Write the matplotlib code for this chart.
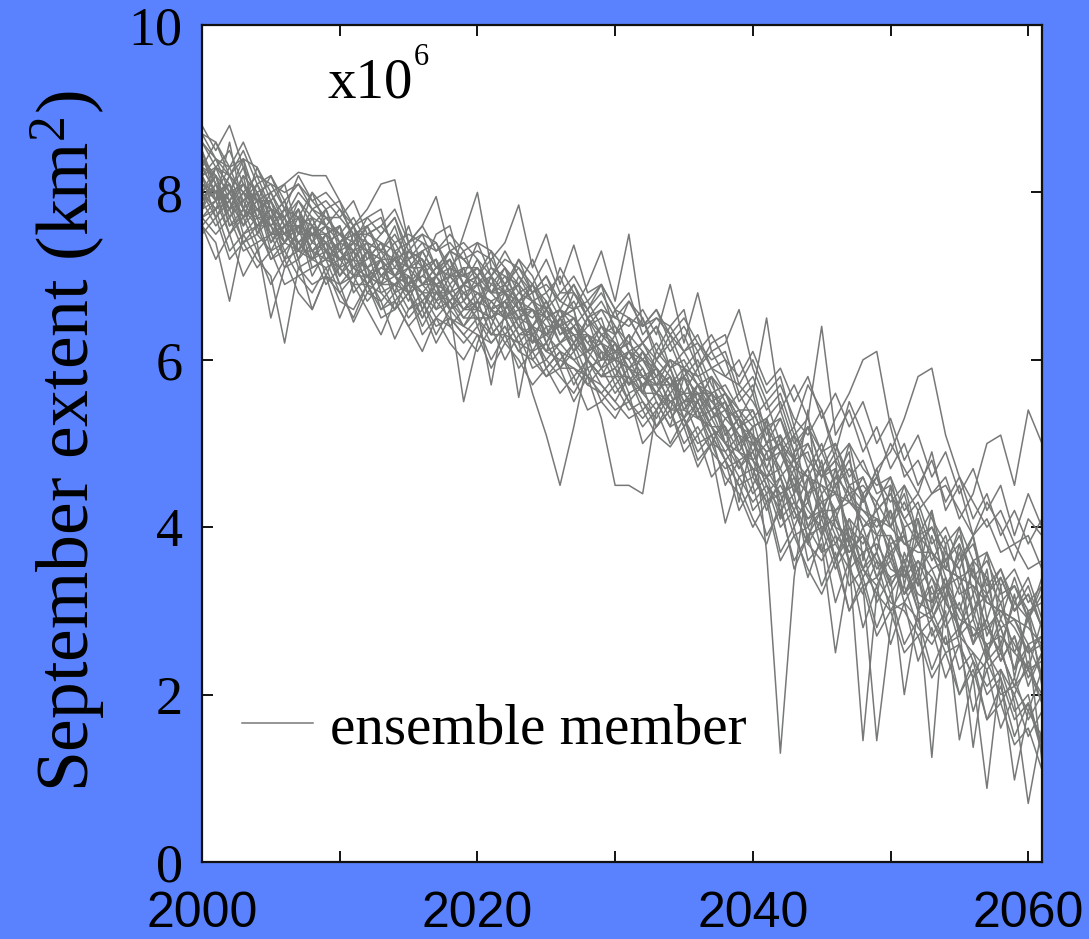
import matplotlib
matplotlib.use("Agg")
import matplotlib.pyplot as plt

# Simulated September sea-ice extent (10^6 km^2), one list per ensemble member, 2000-2061
years = list(range(2000, 2062))

member_01 = [8.4, 8.1, 7.7, 8.0, 7.6, 7.8, 7.2, 7.6, 7.5, 7.0,
             7.4, 7.6, 7.0, 6.9, 7.3, 7.1, 6.6, 7.0, 7.2, 6.7,
             6.9, 6.4, 6.8, 6.9, 6.3, 6.1, 6.5, 6.6, 5.9, 6.0,
             6.3, 5.8, 5.6, 6.1, 5.9, 5.4, 5.7, 5.3, 5.5, 4.9,
             5.2, 3.7, 1.3, 3.4, 4.6, 4.1, 4.7, 3.8, 4.4, 3.9,
             4.2, 3.4, 3.9, 3.1, 3.7, 3.5, 2.6, 3.2, 2.8, 2.3,
             3.0, 2.5]
member_02 = [7.9, 8.2, 7.6, 7.8, 8.0, 7.4, 7.6, 7.3, 7.2, 7.5,
             7.0, 7.3, 6.9, 7.2, 6.8, 6.9, 7.1, 6.6, 6.7, 6.9,
             6.4, 6.7, 6.5, 6.2, 5.6, 5.1, 4.5, 5.2, 6.0, 5.8,
             6.1, 5.7, 5.9, 5.5, 5.2, 5.8, 5.4, 5.0, 5.3, 5.1,
             4.5, 4.9, 4.3, 4.7, 4.0, 4.4, 3.6, 4.1, 3.9, 3.4,
             3.8, 3.2, 3.6, 3.4, 2.9, 3.3, 2.7, 2.9, 2.4, 2.7,
             2.1, 2.5]
member_03 = [7.8, 7.9, 8.1, 7.5, 7.7, 7.2, 7.4, 7.6, 7.0, 7.3,
             7.1, 6.9, 7.3, 6.8, 6.6, 7.0, 6.7, 6.9, 6.4, 6.6,
             6.7, 6.3, 6.5, 6.6, 6.1, 6.4, 5.9, 6.2, 5.8, 5.3,
             4.5, 4.5, 4.4, 5.4, 5.6, 5.2, 5.5, 5.1, 4.8, 5.0,
             4.7, 4.2, 4.6, 4.0, 4.4, 3.7, 4.1, 3.8, 3.5, 3.9,
             3.3, 3.6, 3.0, 3.4, 3.1, 2.8, 3.2, 2.5, 2.9, 2.6,
             2.3, 2.0]
member_04 = [8.2, 8.4, 8.0, 7.7, 8.1, 7.8, 7.5, 7.9, 7.7, 7.3,
             7.6, 7.2, 7.5, 7.4, 7.0, 7.3, 7.2, 6.8, 7.1, 7.0,
             7.1, 6.8, 6.6, 7.0, 6.7, 6.5, 6.6, 6.2, 6.4, 6.5,
             6.0, 6.3, 6.1, 5.7, 6.0, 5.9, 5.5, 5.8, 5.6, 5.2,
             5.4, 5.0, 4.7, 5.1, 4.3, 4.8, 4.0, 3.6, 1.45, 3.2,
             3.9, 3.5, 4.2, 3.7, 3.3, 3.6, 3.9, 2.9, 3.4, 3.0,
             3.3, 2.8]
member_05 = [8.0, 7.7, 7.9, 8.2, 7.5, 7.7, 7.4, 7.3, 7.6, 7.2,
             7.3, 7.1, 6.9, 7.2, 7.0, 6.7, 7.1, 6.9, 6.6, 6.8,
             6.6, 6.9, 6.8, 6.4, 6.6, 6.2, 6.5, 6.1, 6.3, 5.9,
             6.2, 6.0, 5.7, 5.9, 5.6, 5.8, 5.3, 5.6, 5.4, 5.0,
             5.1, 4.8, 5.0, 4.4, 4.7, 4.2, 4.5, 3.9, 3.3, 1.45,
             2.8, 3.7, 3.3, 3.9, 3.4, 3.0, 3.5, 2.7, 3.1, 2.5,
             2.9, 2.2]
member_06 = [8.5, 8.1, 7.8, 7.9, 8.0, 7.6, 7.8, 7.4, 7.5, 7.6,
             7.2, 7.4, 7.3, 7.0, 7.2, 6.9, 7.3, 7.0, 7.1, 6.7,
             7.0, 6.6, 6.9, 6.7, 6.4, 6.7, 6.3, 6.5, 6.1, 6.4,
             6.2, 5.9, 6.1, 5.8, 6.0, 5.6, 5.9, 5.4, 5.6, 5.3,
             4.9, 5.2, 4.6, 4.8, 4.4, 4.7, 4.1, 4.5, 4.0, 4.2,
             3.6, 4.0, 3.1, 1.25, 3.2, 3.7, 3.0, 3.4, 2.6, 3.1,
             2.9, 3.4]
member_07 = [7.7, 7.9, 7.5, 7.8, 7.4, 7.5, 7.1, 7.4, 7.2, 7.3,
             6.9, 7.1, 7.0, 6.7, 6.9, 6.8, 6.5, 6.8, 6.7, 6.4,
             6.6, 6.5, 6.2, 6.4, 6.3, 6.0, 6.2, 6.0, 5.8, 6.1,
             5.7, 5.9, 5.6, 5.4, 5.7, 5.3, 5.5, 5.2, 4.9, 5.1,
             4.8, 4.4, 4.6, 4.1, 4.3, 3.9, 4.2, 3.6, 4.0, 3.5,
             3.7, 3.2, 3.5, 2.9, 3.2, 2.6, 2.2, 0.88, 2.3, 2.0,
             2.4, 1.9]
member_08 = [7.6, 7.8, 7.3, 7.5, 7.6, 7.2, 7.3, 7.0, 7.1, 7.2,
             6.8, 7.0, 6.7, 6.9, 6.6, 6.8, 6.4, 6.7, 6.5, 6.3,
             6.5, 6.2, 6.4, 6.1, 6.3, 5.9, 6.1, 5.8, 6.0, 5.7,
             5.5, 5.8, 5.4, 5.6, 5.3, 5.5, 5.1, 5.3, 5.0, 4.7,
             4.9, 4.5, 4.3, 4.6, 4.0, 4.2, 3.8, 4.1, 3.5, 3.7,
             3.3, 3.6, 3.1, 3.0, 3.4, 2.7, 2.9, 2.4, 2.6, 1.9,
             0.7, 1.6]
member_09 = [8.6, 8.3, 8.5, 8.1, 7.9, 8.2, 7.8, 7.7, 8.0, 7.6,
             7.8, 7.5, 7.6, 7.7, 7.3, 7.4, 7.5, 7.1, 7.3, 7.2,
             7.0, 7.3, 7.1, 6.9, 7.2, 6.8, 7.0, 6.6, 6.9, 7.3,
             6.7, 7.5, 6.4, 6.6, 6.3, 6.5, 6.2, 6.0, 6.1, 5.6,
             5.8, 5.4, 5.6, 5.1, 5.3, 4.9, 5.0, 4.6, 4.8, 4.4,
             4.5, 4.1, 4.3, 3.8, 4.0, 3.6, 3.8, 3.3, 3.5, 3.1,
             3.4, 2.9]
member_10 = [8.3, 8.6, 8.2, 8.4, 7.9, 8.0, 7.7, 7.9, 7.6, 7.8,
             7.4, 7.6, 7.3, 7.5, 7.7, 7.2, 7.3, 7.4, 7.0, 7.5,
             8.0, 7.1, 6.9, 7.2, 6.8, 7.0, 6.6, 6.9, 6.5, 6.7,
             6.4, 6.2, 6.5, 6.0, 6.3, 5.9, 6.1, 5.7, 5.4, 5.6,
             5.3, 5.5, 5.0, 5.2, 4.7, 5.0, 4.5, 4.8, 4.3, 4.6,
             4.1, 4.4, 3.8, 4.0, 3.7, 3.5, 3.9, 3.2, 3.4, 3.0,
             3.2, 2.8]
member_11 = [7.9, 7.6, 7.8, 7.4, 7.5, 7.3, 7.6, 7.1, 7.2, 7.4,
             6.9, 7.0, 7.1, 6.6, 6.8, 6.5, 6.7, 6.3, 6.6, 5.5,
             6.2, 6.6, 6.3, 6.5, 6.0, 6.2, 5.9, 6.1, 5.7, 5.9,
             5.6, 5.8, 5.5, 5.3, 5.6, 5.2, 5.4, 4.9, 4.05, 4.6,
             4.7, 4.3, 4.5, 4.2, 3.8, 4.1, 3.6, 3.9, 3.4, 3.7,
             3.2, 3.5, 3.0, 3.3, 2.8, 3.1, 2.6, 2.9, 2.4, 2.7,
             2.2, 2.5]
member_12 = [8.1, 8.0, 8.3, 7.9, 8.1, 7.7, 7.9, 7.5, 7.8, 7.6,
             7.5, 7.3, 7.6, 7.2, 7.4, 7.1, 7.3, 7.0, 7.2, 6.9,
             7.1, 6.8, 7.0, 6.9, 6.7, 6.8, 6.5, 6.7, 6.4, 6.6,
             6.3, 6.5, 6.2, 6.4, 6.1, 6.3, 5.9, 6.1, 5.8, 6.0,
             5.6, 6.5, 5.4, 5.7, 5.3, 6.4, 5.1, 5.4, 4.9, 5.2,
             4.7, 5.0, 4.5, 4.8, 4.3, 4.6, 4.1, 4.4, 3.9, 4.2,
             3.8, 4.1]
member_13 = [7.8, 8.1, 7.9, 7.6, 7.8, 7.9, 7.4, 7.6, 7.7, 7.3,
             7.4, 7.5, 7.1, 7.3, 7.0, 7.2, 6.9, 7.1, 7.0, 6.8,
             6.9, 7.0, 6.6, 6.8, 6.7, 6.3, 6.6, 6.5, 6.2, 6.4,
             6.1, 6.2, 6.0, 5.8, 6.0, 5.9, 5.7, 5.5, 5.6, 5.4,
             5.2, 5.3, 5.5, 5.0, 5.2, 4.9, 5.3, 5.6, 6.0, 6.1,
             5.2, 4.6, 4.8, 4.4, 4.5, 4.2, 3.9, 4.1, 3.7, 3.8,
             3.5, 3.6]
member_14 = [8.2, 7.9, 8.0, 8.3, 7.7, 7.6, 7.8, 7.7, 7.3, 7.5,
             7.6, 7.1, 7.2, 7.4, 7.3, 6.9, 7.0, 7.2, 6.8, 7.1,
             6.7, 7.0, 6.8, 6.5, 6.7, 6.6, 6.4, 6.2, 6.5, 6.3,
             6.1, 6.0, 6.2, 5.9, 5.7, 5.9, 5.8, 5.5, 5.3, 5.4,
             5.0, 5.2, 4.9, 4.7, 5.0, 4.6, 4.8, 4.5, 4.3, 4.7,
             4.9, 5.3, 5.8, 5.9, 5.1, 4.6, 4.3, 4.0, 4.2, 3.8,
             3.9, 3.5]
member_15 = [8.0, 8.2, 7.7, 7.9, 7.6, 7.8, 7.5, 7.3, 7.5, 7.4,
             7.2, 7.4, 7.0, 7.1, 7.2, 6.8, 6.9, 7.0, 6.7, 6.9,
             6.8, 6.6, 6.7, 6.5, 6.4, 6.6, 6.2, 6.4, 6.1, 6.2,
             5.9, 6.1, 5.8, 5.6, 5.9, 5.5, 5.7, 5.4, 5.5, 5.2,
             5.1, 4.9, 5.0, 4.8, 4.6, 4.9, 4.5, 4.7, 4.4, 4.6,
             4.3, 4.5, 4.2, 4.4, 4.6, 4.1, 4.4, 5.0, 5.1, 4.5,
             5.4, 5.0]
member_16 = [8.8, 8.5, 8.8, 8.3, 8.0, 8.1, 7.8, 8.2, 7.9, 7.7,
             7.5, 7.7, 7.4, 7.3, 7.6, 7.1, 7.2, 7.0, 7.3, 6.9,
             7.0, 6.8, 6.9, 6.6, 6.5, 6.7, 6.3, 6.4, 6.2, 6.0,
             6.2, 5.9, 5.7, 5.8, 5.5, 5.6, 5.4, 5.1, 5.2, 4.9,
             4.8, 4.6, 4.4, 4.5, 4.2, 4.0, 4.1, 3.7, 3.9, 3.6,
             3.4, 3.5, 3.2, 3.1, 3.3, 2.9, 2.8, 2.6, 2.7, 2.5,
             2.3, 2.4]
member_17 = [7.6, 7.4, 6.7, 7.5, 7.2, 7.0, 6.2, 7.1, 6.9, 7.0,
             6.8, 6.5, 6.9, 6.6, 6.7, 6.4, 6.6, 6.2, 6.5, 6.3,
             6.1, 6.4, 6.0, 6.3, 5.9, 6.0, 5.8, 5.6, 5.9, 5.5,
             5.7, 5.4, 5.5, 5.2, 5.4, 5.0, 5.2, 4.9, 4.7, 4.8,
             4.4, 4.6, 4.1, 4.3, 3.9, 4.0, 3.5, 3.8, 3.3, 3.4,
             3.1, 3.0, 2.7, 2.9, 2.5, 2.6, 2.2, 2.4, 2.0, 2.1,
             1.8, 1.5]
member_18 = [7.7, 7.5, 7.7, 7.3, 7.4, 6.5, 7.1, 7.2, 6.6, 7.0,
             6.9, 6.45, 6.8, 6.7, 6.25, 6.6, 6.7, 6.4, 6.5, 6.4,
             6.3, 6.2, 6.4, 6.1, 6.0, 5.8, 6.0, 5.9, 5.7, 5.6,
             5.8, 5.5, 5.3, 5.5, 5.2, 5.3, 5.0, 5.1, 4.8, 4.5,
             4.6, 4.3, 4.4, 3.9, 4.0, 3.7, 3.8, 3.5, 3.2, 3.6,
             3.0, 3.3, 2.8, 2.6, 2.9, 2.3, 2.5, 2.0, 2.2, 1.7,
             1.9, 1.4]
member_19 = [8.0, 7.8, 8.0, 7.7, 7.3, 7.5, 7.5, 7.4, 7.2, 7.1,
             7.2, 7.0, 7.0, 6.9, 6.9, 7.0, 6.8, 6.6, 6.9, 6.6,
             6.6, 6.5, 6.6, 6.3, 6.4, 6.1, 6.2, 6.3, 6.0, 5.8,
             5.9, 5.7, 5.8, 5.6, 5.5, 5.6, 5.3, 5.4, 5.0, 4.8,
             4.9, 4.5, 4.2, 4.4, 3.6, 3.8, 2.5, 3.5, 3.7, 3.1,
             3.4, 2.0, 3.0, 2.9, 2.6, 2.8, 2.4, 2.1, 2.3, 1.8,
             2.0, 1.3]
member_20 = [8.1, 8.0, 7.8, 8.1, 7.8, 7.5, 7.6, 7.6, 7.3, 7.2,
             7.1, 7.2, 7.1, 6.9, 7.0, 6.8, 6.9, 6.7, 6.8, 6.5,
             6.7, 6.6, 6.7, 6.4, 6.2, 6.3, 6.1, 6.0, 6.1, 5.9,
             6.0, 5.6, 5.7, 5.7, 5.4, 5.5, 5.5, 5.2, 5.2, 4.7,
             5.0, 4.7, 4.4, 4.5, 4.1, 4.3, 3.9, 3.7, 3.9, 3.4,
             3.6, 3.2, 3.4, 2.7, 3.0, 1.46, 2.2, 2.6, 1.9, 2.2,
             1.7, 2.0]
member_21 = [8.3, 8.0, 8.1, 7.8, 7.7, 7.7, 7.3, 7.5, 7.5, 7.5,
             7.3, 7.1, 7.3, 7.0, 7.1, 7.0, 6.8, 6.8, 6.8, 6.6,
             6.8, 6.7, 6.5, 6.5, 6.6, 6.3, 6.4, 6.1, 6.3, 6.0,
             6.0, 6.1, 5.8, 5.7, 5.7, 5.8, 5.4, 5.6, 5.1, 5.3,
             4.8, 5.0, 4.6, 4.2, 4.6, 4.3, 4.4, 4.0, 3.8, 4.1,
             3.7, 3.9, 3.3, 3.5, 3.1, 2.8, 1.37, 2.5, 2.2, 0.98,
             1.8, 2.3]
member_22 = [7.9, 8.1, 7.6, 7.7, 7.9, 7.4, 7.7, 7.2, 7.4, 7.3,
             7.0, 7.2, 6.8, 7.0, 6.9, 7.1, 6.6, 6.9, 6.6, 6.7,
             6.5, 6.5, 6.7, 6.3, 6.3, 6.1, 6.0, 6.2, 6.0, 5.8,
             5.8, 5.8, 5.6, 5.6, 5.4, 5.4, 5.3, 5.2, 5.0, 4.9,
             4.7, 4.6, 4.7, 4.3, 4.1, 4.2, 4.0, 3.9, 3.7, 3.8,
             3.5, 3.4, 3.6, 3.2, 3.3, 3.0, 2.7, 2.8, 2.5, 2.1,
             2.6, 1.2]
member_23 = [8.4, 8.2, 8.0, 8.1, 7.9, 7.9, 7.6, 7.7, 7.6, 7.4,
             7.5, 7.3, 7.4, 7.3, 7.2, 7.3, 7.1, 7.2, 6.9, 7.1,
             7.1, 6.9, 7.1, 6.8, 6.9, 6.6, 6.8, 6.8, 6.5, 6.6,
             6.5, 6.4, 6.6, 6.3, 6.9, 6.2, 6.8, 6.1, 6.2, 6.6,
             5.9, 5.5, 5.7, 5.3, 5.1, 5.4, 4.8, 5.0, 4.7, 4.5,
             4.6, 4.2, 4.4, 4.1, 3.8, 4.0, 3.6, 3.7, 3.3, 3.5,
             3.1, 3.3]
member_24 = [8.2, 8.3, 8.2, 8.0, 8.2, 7.8, 7.7, 8.0, 7.8, 7.7,
             7.7, 7.5, 7.5, 7.6, 7.4, 7.5, 7.4, 7.3, 7.4, 7.2,
             7.3, 7.2, 7.4, 7.85, 7.1, 7.5, 6.9, 7.37, 6.8, 6.9,
             6.6, 6.5, 6.4, 6.5, 6.3, 6.1, 6.2, 5.9, 5.8, 5.7,
             5.5, 5.2, 5.3, 4.9, 5.0, 4.6, 4.9, 4.4, 4.5, 4.3,
             4.0, 4.3, 3.9, 4.0, 3.6, 3.8, 3.4, 3.6, 3.2, 3.3,
             3.0, 3.1]
member_25 = [8.6, 8.4, 8.3, 8.6, 8.2, 8.1, 8.0, 8.1, 7.9, 8.0,
             7.8, 7.6, 7.8, 8.1, 8.15, 7.4, 7.6, 7.95, 7.3, 7.4,
             7.2, 7.0, 7.3, 7.0, 6.8, 6.9, 6.7, 6.6, 6.7, 6.4,
             6.3, 6.5, 6.2, 6.0, 6.2, 5.8, 6.0, 5.6, 5.7, 5.4,
             5.4, 5.0, 5.1, 4.8, 4.9, 4.4, 4.6, 4.4, 4.2, 4.0,
             4.2, 3.8, 3.9, 3.7, 3.5, 3.4, 3.5, 3.1, 3.0, 2.9,
             2.6, 2.7]
member_26 = [8.7, 8.6, 8.3, 8.4, 8.3, 8.0, 8.1, 8.24, 8.2, 8.2,
             7.9, 7.6, 7.7, 7.5, 7.7, 7.3, 7.5, 7.4, 7.1, 7.3,
             6.9, 7.1, 7.0, 6.7, 6.9, 6.5, 6.6, 6.4, 6.6, 6.3,
             6.4, 6.1, 6.0, 6.2, 5.9, 6.0, 5.7, 5.8, 5.5, 5.0,
             5.2, 5.3, 4.9, 5.1, 4.8, 4.6, 4.7, 4.3, 4.6, 4.2,
             4.4, 4.0, 4.1, 3.6, 3.9, 3.3, 3.6, 3.4, 3.1, 3.3,
             2.9, 3.2]
member_27 = [7.7, 7.8, 7.9, 7.4, 7.6, 7.6, 7.2, 7.3, 7.3, 6.9,
             7.1, 6.9, 6.9, 6.8, 6.9, 6.6, 6.8, 6.5, 6.7, 6.5,
             6.5, 6.3, 6.3, 6.2, 6.1, 6.2, 5.9, 5.9, 5.8, 5.7,
             5.5, 5.3, 5.4, 5.1, 4.96, 5.2, 4.72, 5.0, 4.9, 4.6,
             4.3, 4.5, 4.0, 4.2, 3.8, 3.6, 3.9, 3.3, 3.5, 3.2,
             3.0, 3.1, 2.9, 3.0, 2.6, 2.7, 2.5, 2.3, 2.5, 2.1,
             2.3, 1.9]
member_28 = [8.1, 7.9, 8.2, 8.0, 7.8, 7.6, 7.4, 7.8, 7.4, 7.6,
             7.4, 7.3, 7.1, 7.2, 7.2, 6.9, 7.0, 6.9, 7.0, 6.8,
             6.6, 5.7, 6.6, 5.55, 6.4, 6.3, 6.5, 6.3, 6.1, 6.2,
             6.0, 5.9, 6.0, 5.7, 5.8, 5.5, 5.6, 5.4, 5.2, 4.3,
             5.1, 4.6, 4.9, 4.5, 4.7, 4.2, 4.2, 4.3, 4.1, 3.9,
             3.9, 3.6, 3.8, 3.5, 3.6, 3.2, 3.3, 2.8, 3.0, 2.8,
             2.5, 2.7]
member_29 = [8.3, 8.2, 7.8, 8.0, 7.9, 7.8, 7.7, 7.4, 7.6, 7.5,
             7.3, 7.4, 7.3, 7.2, 7.0, 7.1, 7.1, 6.9, 7.0, 7.0,
             6.9, 6.8, 6.8, 6.7, 6.6, 6.5, 6.4, 6.5, 6.3, 6.2,
             6.1, 6.2, 6.0, 5.9, 5.7, 5.8, 5.6, 5.6, 5.4, 5.3,
             5.1, 4.9, 5.0, 4.7, 4.6, 4.5, 4.4, 4.3, 4.2, 4.1,
             4.0, 3.8, 3.7, 3.7, 3.5, 3.4, 3.3, 3.1, 3.0, 2.9,
             2.8, 2.6]
member_30 = [7.9, 8.0, 8.1, 7.7, 7.8, 7.7, 7.5, 7.6, 7.3, 7.4,
             7.2, 7.2, 7.4, 7.0, 7.2, 7.1, 6.9, 6.9, 6.8, 6.9,
             6.8, 6.7, 6.8, 6.6, 6.6, 6.4, 6.4, 6.3, 6.3, 6.1,
             6.0, 5.9, 5.8, 5.9, 5.7, 5.6, 5.6, 5.3, 5.4, 5.1,
             5.0, 4.8, 4.9, 4.6, 4.4, 4.5, 4.2, 4.4, 4.0, 4.1,
             3.8, 3.9, 3.5, 3.7, 3.3, 3.4, 3.0, 3.2, 2.8, 2.9,
             2.5, 2.6]
member_31 = [8.5, 7.9, 8.6, 7.8, 8.3, 7.9, 8.1, 7.5, 8.0, 7.8,
             7.9, 7.4, 7.7, 7.8, 7.2, 7.6, 7.1, 7.5, 7.6, 7.0,
             7.4, 7.3, 6.8, 7.2, 7.0, 6.6, 7.1, 6.8, 6.6, 6.9,
             6.3, 6.7, 6.5, 6.1, 6.4, 6.6, 5.9, 6.2, 6.3, 5.7,
             6.0, 5.6, 5.8, 5.2, 5.7, 5.4, 4.9, 5.5, 5.1, 4.6,
             5.0, 4.7, 4.4, 4.9, 4.2, 4.5, 3.9, 4.3, 4.0, 3.6,
             4.1, 3.9]
member_32 = [7.6, 7.2, 7.5, 7.0, 7.3, 6.9, 7.2, 6.8, 6.6, 7.0,
             6.5, 6.9, 6.6, 6.3, 6.7, 6.4, 6.1, 6.5, 6.2, 6.0,
             6.3, 5.9, 6.2, 6.0, 5.7, 5.9, 5.6, 5.8, 5.4, 5.5,
             5.3, 5.6, 5.0, 5.2, 5.4, 4.9, 5.1, 4.6, 4.8, 4.2,
             4.5, 3.9, 4.2, 3.6, 3.9, 3.3, 3.7, 3.0, 3.4, 2.8,
             3.2, 2.6, 2.9, 2.3, 2.7, 2.0, 2.4, 1.7, 2.1, 1.5,
             1.9, 1.3]
member_33 = [8.2, 7.7, 8.0, 8.4, 7.5, 7.9, 7.6, 7.8, 7.2, 7.5,
             7.6, 7.0, 7.3, 7.2, 6.8, 7.3, 7.2, 6.7, 7.0, 7.1,
             6.6, 7.0, 6.5, 6.7, 6.8, 6.2, 6.5, 6.6, 6.0, 6.3,
             6.2, 5.7, 6.1, 5.9, 5.4, 5.9, 5.5, 5.8, 5.1, 5.3,
             4.6, 5.3, 4.1, 4.9, 3.8, 4.6, 4.8, 3.5, 4.4, 3.7,
             4.5, 3.3, 4.1, 3.0, 3.8, 2.7, 3.6, 2.4, 3.3, 2.2,
             3.0, 2.1]
member_34 = [8.0, 8.3, 7.9, 8.1, 7.7, 8.0, 7.6, 7.8, 7.5, 7.7,
             7.5, 7.4, 7.6, 7.3, 7.5, 7.2, 7.4, 7.1, 7.3, 7.2,
             7.0, 7.2, 6.9, 7.1, 6.8, 7.0, 6.7, 6.9, 6.6, 6.8,
             6.5, 6.7, 6.4, 6.6, 6.2, 6.4, 6.1, 6.3, 6.0, 5.8,
             6.1, 5.7, 5.9, 5.5, 5.8, 5.3, 5.6, 5.2, 5.5, 5.0,
             5.3, 4.8, 5.1, 4.6, 4.9, 4.4, 4.7, 4.2, 4.5, 3.9,
             4.4, 4.0]
member_35 = [8.3, 8.0, 7.5, 7.7, 7.9, 7.3, 7.4, 7.7, 7.1, 7.2,
             7.4, 6.8, 7.0, 7.2, 6.7, 6.9, 6.5, 6.8, 6.6, 6.4,
             6.7, 6.3, 6.5, 6.2, 6.4, 5.9, 6.1, 5.7, 6.0, 5.8,
             5.9, 5.5, 5.7, 5.2, 5.5, 5.3, 4.9, 5.1, 4.5, 4.8,
             4.2, 4.4, 3.7, 4.0, 3.4, 3.9, 3.1, 3.6, 2.8, 3.3,
             2.6, 3.1, 2.4, 2.8, 2.2, 2.6, 1.8, 2.3, 1.6, 2.0,
             1.5, 1.8]
member_36 = [7.8, 8.3, 8.1, 7.6, 8.0, 7.7, 7.9, 7.3, 7.7, 7.6,
             7.1, 7.5, 7.4, 6.9, 7.3, 6.8, 7.1, 7.2, 6.6, 6.9,
             7.0, 6.5, 6.7, 6.9, 6.2, 6.6, 6.4, 6.1, 6.5, 6.0,
             6.1, 6.3, 5.6, 6.0, 5.8, 5.3, 5.7, 5.6, 5.0, 5.2,
             5.3, 4.7, 5.1, 4.4, 5.4, 3.9, 4.6, 4.9, 3.6, 4.3,
             4.6, 3.9, 3.4, 4.2, 3.1, 3.8, 2.9, 3.5, 2.5, 3.2,
             2.3, 2.9]
member_37 = [7.5, 7.7, 7.2, 7.4, 7.1, 7.3, 6.9, 7.0, 6.8, 7.1,
             6.7, 6.6, 6.9, 6.5, 6.6, 6.8, 6.3, 6.5, 6.4, 6.2,
             6.4, 6.0, 6.3, 5.9, 6.1, 5.8, 5.9, 5.5, 5.8, 5.6,
             5.4, 5.5, 5.2, 5.4, 5.0, 5.3, 4.8, 5.0, 4.6, 4.4,
             4.0, 4.3, 3.6, 3.9, 3.5, 3.2, 3.6, 3.0, 3.3, 2.7,
             3.0, 2.5, 2.7, 2.2, 2.5, 2.0, 2.3, 1.7, 1.9, 1.4,
             1.6, 1.1]
member_38 = [8.7, 8.4, 8.2, 8.5, 8.1, 8.2, 7.9, 8.1, 7.8, 7.9,
             7.7, 7.9, 7.5, 7.6, 7.8, 7.4, 7.6, 7.3, 7.5, 7.3,
             7.4, 7.0, 7.2, 7.1, 6.9, 7.2, 6.8, 7.0, 6.7, 6.9,
             6.6, 6.8, 6.3, 6.5, 6.4, 6.1, 6.3, 5.9, 6.0, 5.5,
             5.7, 5.1, 5.4, 4.9, 5.2, 4.7, 5.0, 4.5, 4.6, 4.2,
             4.4, 4.1, 3.8, 4.0, 3.6, 3.9, 3.4, 3.2, 3.5, 3.0,
             3.2, 2.8]
member_39 = [8.0, 7.8, 8.2, 7.8, 7.6, 7.7, 7.7, 7.2, 7.6, 7.3,
             7.2, 7.3, 6.9, 7.1, 7.0, 6.9, 6.8, 7.0, 6.8, 6.6,
             6.8, 6.6, 6.5, 6.7, 6.3, 6.5, 6.2, 6.4, 6.1, 6.2,
             5.8, 6.1, 5.9, 5.6, 5.8, 5.4, 5.6, 5.2, 4.8, 4.5,
             4.1, 3.8, 4.3, 3.5, 3.9, 4.2, 3.6, 4.0, 3.5, 3.3,
             3.7, 3.1, 3.4, 2.9, 3.3, 2.8, 3.0, 2.5, 2.8, 2.3,
             2.6, 2.2]
member_40 = [8.4, 8.1, 7.8, 8.2, 8.0, 7.5, 7.8, 7.7, 7.4, 7.8,
             7.3, 7.6, 7.2, 7.4, 7.1, 7.4, 6.9, 7.1, 7.2, 6.9,
             7.2, 6.8, 7.1, 6.6, 6.9, 6.7, 6.4, 6.8, 6.5, 6.2,
             6.6, 6.1, 6.2, 6.4, 5.9, 6.1, 5.8, 5.9, 5.6, 5.3,
             5.6, 5.0, 5.3, 4.8, 5.2, 4.7, 4.4, 5.0, 4.3, 4.7,
             4.0, 4.5, 3.9, 4.2, 3.5, 4.0, 3.2, 3.7, 2.9, 3.4,
             2.9, 3.3]

members = [member_01, member_02, member_03, member_04, member_05, member_06,
           member_07, member_08, member_09, member_10, member_11, member_12,
           member_13, member_14, member_15, member_16, member_17, member_18,
           member_19, member_20, member_21, member_22, member_23, member_24,
           member_25, member_26, member_27, member_28, member_29, member_30,
           member_31, member_32, member_33, member_34, member_35, member_36,
           member_37, member_38, member_39, member_40]

x_ticks = [2000, 2010, 2020, 2030, 2040, 2050, 2060]
x_tick_labels = ["2000", "", "2020", "", "2040", "", "2060"]
y_ticks = [0, 2, 4, 6, 8, 10]

plt.rcParams["mathtext.fontset"] = "custom"
plt.rcParams["mathtext.rm"] = "Liberation Serif"
plt.rcParams["mathtext.it"] = "Liberation Serif:italic"

bg = "#5a82fe"
line_color = "#777979"

fig = plt.figure(figsize=(10.89, 9.39), dpi=100, facecolor=bg)
ax = fig.add_axes([202 / 1089, 77 / 939, 840 / 1089, 837 / 939])
ax.set_facecolor("white")

for i, series in enumerate(members):
    ax.plot(years, series, color=line_color, lw=1.1,
            label="ensemble member" if i == 0 else "_nolegend_")

ax.set_xlim(2000, 2061)
ax.set_ylim(0, 10)

ax.set_xticks(x_ticks)
ax.set_xticklabels(x_tick_labels, fontfamily="Liberation Sans", fontsize=36)
ax.set_yticks(y_ticks)
ax.set_yticklabels([str(v) for v in y_ticks], fontfamily="Liberation Serif",
                   fontsize=39)
ax.tick_params(axis="both", direction="in", top=True, right=True,
               length=8, width=1.3, colors="black")
ax.tick_params(axis="x", pad=21)
ax.tick_params(axis="y", pad=14)
for sp in ax.spines.values():
    sp.set_linewidth(1.6)
    sp.set_color("#111111")

fig.text(0.062, 0.53, r"September extent (km$^{\mathrm{2}}$)",
         rotation=90, ha="center", va="center",
         fontfamily="Liberation Serif", fontsize=53)

# scale factor note: "x10" with a raised exponent
ax.text(0.150, 0.913, "x10", transform=ax.transAxes,
        fontfamily="Liberation Serif", fontsize=41, ha="left", va="baseline")
ax.text(0.252, 0.952, "6", transform=ax.transAxes,
        fontfamily="Liberation Serif", fontsize=22, ha="left", va="baseline")

leg = ax.legend(loc="center left", bbox_to_anchor=(40 / 840, 133 / 837),
                frameon=False, borderpad=0, borderaxespad=0,
                handlelength=1.25, handletextpad=0.3,
                prop={"family": "Liberation Serif", "size": 41})

fig.savefig("out.png", dpi=100, facecolor=bg)
